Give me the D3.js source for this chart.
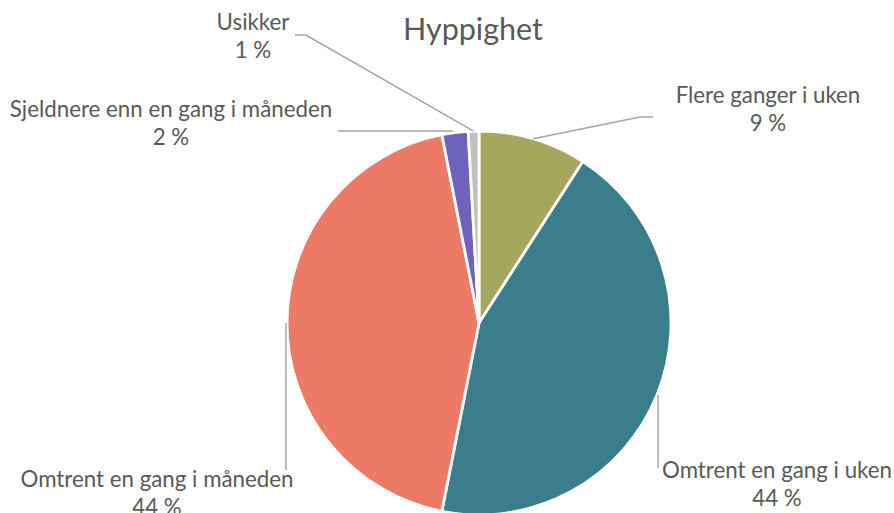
<!DOCTYPE html>
<html>
<head>
<meta charset="utf-8">
<script src="https://cdn.jsdelivr.net/npm/d3@7"></script>
<style>
  html, body { margin: 0; padding: 0; background: #fff; }
  svg { display: block; }
  text { font-family: Lato, "Open Sans", sans-serif; fill: #595959; }
</style>
</head>
<body>
<svg id="chart" width="894" height="513"></svg>
<script>
// ---- data ----
const categories = [
  "Flere ganger i uken",
  "Omtrent en gang i uken",
  "Omtrent en gang i måneden",
  "Sjeldnere enn en gang i måneden",
  "Usikker"
];
const values = [9.1, 44.0, 43.8, 2.2, 0.9];
const valueLabels = ["9 %", "44 %", "44 %", "2 %", "1 %"];
const colors = ["#a5a75f", "#3a7e8c", "#ec7a66", "#6d63bc", "#bfbfbf"];
const title = "Hyppighet";

// ---- layout ----
const W = 894, H = 513;
const cx = 479, cy = 323, R = 192;
const svg = d3.select("#chart");

svg.append("text")
  .attr("x", 473).attr("y", 40)
  .attr("text-anchor", "middle")
  .style("font-size", "30.5px")
  .text(title);

const data = categories.map((c, i) => ({ name: c, value: values[i], label: valueLabels[i], color: colors[i] }));
const pie = d3.pie().sort(null).value(d => d.value);
const arcs = pie(data);
const arc = d3.arc().innerRadius(0).outerRadius(R);

const g = svg.append("g").attr("transform", `translate(${cx},${cy})`);
g.selectAll("path.slice").data(arcs).enter().append("path")
  .attr("class", "slice")
  .attr("d", arc)
  .attr("fill", d => d.data.color)
  .attr("stroke", "#fff")
  .attr("stroke-width", 2.8)
  .attr("stroke-linejoin", "round");

// label positions (layout)
const labelLayout = [
  { x: 768, y: 103, pts: [[640, 117], [653, 117]] },
  { x: 777, y: 478, pts: [[658, 468]] },
  { x: 157, y: 487, pts: [[286, 470]] },
  { x: 171, y: 117, pts: [[338, 131]] },
  { x: 253, y: 30,  pts: [[306, 35], [295, 35]] }
];

function edgePoint(d) {
  const a = (d.startAngle + d.endAngle) / 2;
  return [cx + R * Math.sin(a), cy - R * Math.cos(a)];
}

const line = d3.line();
arcs.forEach((d, i) => {
  const L = labelLayout[i];
  const p0 = edgePoint(d);
  let pts = [p0].concat(L.pts);
  if (i === 1) pts = [[658, p0[1]], [658, 468]];
  if (i === 2) pts = [[286, p0[1]], [286, 470]];
  if (i === 3) pts = [[p0[0] - 2, 131], [338, 131]];
  svg.append("path")
    .attr("d", line(pts))
    .attr("fill", "none")
    .attr("stroke", "#a6a6a6")
    .attr("stroke-width", 1.5);
  const t = svg.append("text")
    .attr("x", L.x).attr("y", L.y)
    .attr("text-anchor", "middle")
    .style("font-size", "22.3px");
  t.append("tspan").attr("x", L.x).attr("y", L.y).text(d.data.name);
  t.append("tspan").attr("x", L.x).attr("y", L.y + 28).text(d.data.label);
});
</script>
</body>
</html>
